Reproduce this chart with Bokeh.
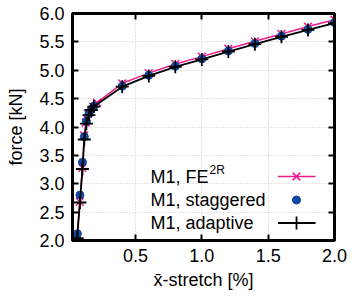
from bokeh.plotting import figure
from bokeh.models import FixedTicker, PrintfTickFormatter, LinearAxis, Label, Range1d
from bokeh.embed import file_html
from bokeh.resources import INLINE

# ---- data ----
x_fe = [0.058, 0.080, 0.100, 0.113, 0.125, 0.139, 0.180, 0.210, 0.40, 0.60, 0.80, 1.00, 1.20, 1.40, 1.60, 1.80, 2.00]
y_fe = [2.02, 2.68, 3.28, 3.85, 4.08, 4.24, 4.36, 4.43, 4.77, 4.95, 5.11, 5.24, 5.38, 5.51, 5.64, 5.77, 5.89]

x_st = [0.062, 0.081, 0.100, 0.114, 0.130, 0.149, 0.167, 0.186, 0.40, 0.60, 0.80, 1.00, 1.20, 1.40, 1.60, 1.80, 2.00]
y_st = [2.12, 2.80, 3.38, 3.83, 4.10, 4.23, 4.31, 4.37, 4.72, 4.91, 5.07, 5.20, 5.34, 5.47, 5.60, 5.72, 5.84]

x_ad = [0.060, 0.081, 0.100, 0.114, 0.130, 0.149, 0.167, 0.186, 0.40, 0.60, 0.80, 1.00, 1.20, 1.40, 1.60, 1.80, 2.00]
y_ad = [2.04, 2.67, 3.26, 3.78, 4.06, 4.21, 4.30, 4.36, 4.71, 4.90, 5.06, 5.19, 5.33, 5.46, 5.59, 5.71, 5.83]

x_ticks = [0.5, 1.0, 1.5, 2.0]
y_ticks = [2.0, 2.5, 3.0, 3.5, 4.0, 4.5, 5.0, 5.5, 6.0]
labels = ["M1, FE", "M1, staggered", "M1, adaptive"]

MAG = "#ee1c8c"
BLUE = "#0b4aa0"
FONT = "Liberation Sans"

X0, X1 = 0.025, 2.0
Y0, Y1 = 2.0, 6.0

p = figure(width=355, height=296, output_backend="svg", toolbar_location=None,
           x_range=Range1d(X0, X1), y_range=Range1d(Y0, Y1),
           min_border_left=72, min_border_right=21, min_border_top=13, min_border_bottom=56,
           x_axis_label="x\u0304-stretch [%]", y_axis_label="force [kN]")
p.background_fill_color = "white"
p.border_fill_color = "white"
p.outline_line_color = "black"
p.outline_line_width = 3

for ax in (p.xaxis[0], p.yaxis[0]):
    ax.axis_line_width = 3
    ax.major_tick_in = 6
    ax.major_tick_out = 0
    ax.minor_tick_in = 0
    ax.minor_tick_out = 0
    ax.major_tick_line_width = 2
    ax.major_label_text_font = FONT
    ax.major_label_text_font_size = "18px"
    ax.major_label_text_color = "black"
    ax.axis_label_text_font = FONT
    ax.axis_label_text_font_size = "18px"
    ax.axis_label_text_font_style = "normal"
    ax.axis_label_text_color = "black"
    ax.formatter = PrintfTickFormatter(format="%.1f")

p.xaxis[0].ticker = FixedTicker(ticks=x_ticks)
p.yaxis[0].ticker = FixedTicker(ticks=y_ticks)
p.xaxis[0].major_label_standoff = 8
p.yaxis[0].major_label_standoff = 8
p.xaxis[0].axis_label_standoff = 5
p.yaxis[0].axis_label_standoff = 10

top = LinearAxis(ticker=FixedTicker(ticks=x_ticks), major_label_text_font_size="1px",
                 major_label_text_color=None,
                 axis_line_width=3, major_tick_in=6, major_tick_out=0, major_tick_line_width=2,
                 minor_tick_in=0, minor_tick_out=0, major_label_standoff=0)
right = LinearAxis(ticker=FixedTicker(ticks=y_ticks), major_label_text_font_size="1px",
                   major_label_text_color=None,
                   axis_line_width=3, major_tick_in=6, major_tick_out=0, major_tick_line_width=2,
                   minor_tick_in=0, minor_tick_out=0, major_label_standoff=0)
p.add_layout(top, "above")
p.add_layout(right, "right")

p.xgrid.ticker = FixedTicker(ticks=x_ticks)
p.ygrid.ticker = FixedTicker(ticks=y_ticks)
for g in (p.xgrid[0], p.ygrid[0]):
    g.grid_line_color = "#c8c8c8"
    g.grid_line_dash = "1 2"
    g.grid_line_width = 1

# series
p.line(x_fe, y_fe, line_color=MAG, line_width=1.5)
p.scatter(x_fe, y_fe, marker="x", size=11, line_color=MAG, line_width=1.5)
p.scatter(x_st, y_st, marker="circle", size=8, fill_color=BLUE, line_color=BLUE)
p.line(x_ad, y_ad, line_color="black", line_width=1.8)
p.scatter(x_ad, y_ad, marker="cross", size=13, line_color="black", line_width=1.8)

# manual legend (gnuplot style: text left, sample right)
def sx(px):
    return X0 + (px - 72) / 262.0 * (X1 - X0)

def sy(py):
    return Y1 - (py - 13) / 227.0 * (Y1 - Y0)

rows = [176, 199.5, 222.5]
for lab, ry in zip(labels, rows):
    p.add_layout(Label(x=sx(150), y=sy(ry), text=lab, text_font=FONT, text_font_size="18px",
                       text_baseline="middle", text_align="left", text_color="black"))
p.add_layout(Label(x=sx(209), y=sy(169), text="2R", text_font=FONT, text_font_size="12px",
                   text_baseline="middle", text_align="left", text_color="black"))

lx = [sx(277.5), sx(315)]
mx = [sx(296)]
p.line(lx, [sy(rows[0])] * 2, line_color=MAG, line_width=1.5)
p.scatter(mx, [sy(rows[0])], marker="x", size=11, line_color=MAG, line_width=1.5)
p.scatter(mx, [sy(rows[1])], marker="circle", size=8, fill_color=BLUE, line_color=BLUE)
p.line(lx, [sy(rows[2])] * 2, line_color="black", line_width=1.8)
p.scatter(mx, [sy(rows[2])], marker="cross", size=13, line_color="black", line_width=1.8)

open("out.html", "w").write(file_html(p, INLINE))
